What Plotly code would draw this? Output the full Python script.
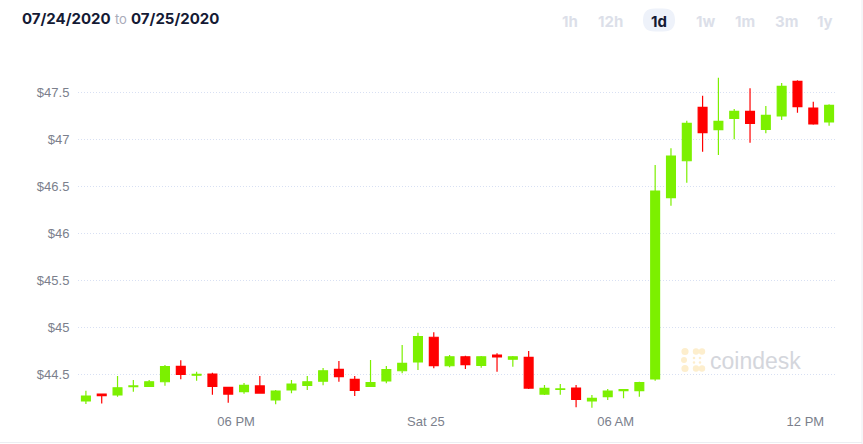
import pandas as pd
import plotly.graph_objects as go

# ---------------- data ----------------
start_time = "2020-07-24 13:15"
opens = [44.216, 44.29, 44.28, 44.368, 44.372, 44.421, 44.585, 44.49, 44.503, 44.362,
         44.315, 44.376, 44.227, 44.333, 44.383, 44.426, 44.553, 44.447, 44.372, 44.429,
         44.538, 44.631, 44.894, 44.591, 44.687, 44.596, 44.705, 44.66, 44.681, 44.29,
         44.34, 44.354, 44.216, 44.262, 44.326, 44.326, 44.45, 46.379, 46.772, 47.34,
         47.102, 47.223, 47.298, 47.106, 47.248, 47.617, 47.333, 47.184]
highs = [44.326, 44.292, 44.482, 44.44, 44.44, 44.599, 44.649, 44.528, 44.517, 44.365,
         44.407, 44.482, 44.333, 44.44, 44.482, 44.567, 44.641, 44.482, 44.652, 44.588,
         44.812, 44.943, 44.947, 44.705, 44.698, 44.695, 44.723, 44.695, 44.748, 44.386,
         44.397, 44.386, 44.28, 44.344, 44.344, 44.421, 46.727, 46.904, 47.198, 47.464,
         47.655, 47.322, 47.543, 47.354, 47.599, 47.628, 47.40, 47.372]
lows = [44.184, 44.19, 44.262, 44.315, 44.368, 44.379, 44.447, 44.432, 44.283, 44.198,
        44.294, 44.30, 44.181, 44.298, 44.333, 44.383, 44.421, 44.269, 44.368, 44.404,
        44.511, 44.546, 44.564, 44.574, 44.556, 44.57, 44.528, 44.581, 44.344, 44.28,
        44.283, 44.149, 44.145, 44.227, 44.245, 44.262, 44.432, 46.294, 46.538, 46.868,
        46.833, 47.00, 46.964, 47.064, 47.205, 47.283, 47.155, 47.145]
closes = [44.269, 44.272, 44.357, 44.376, 44.421, 44.581, 44.50, 44.50, 44.372, 44.29,
          44.383, 44.30, 44.322, 44.397, 44.421, 44.538, 44.474, 44.33, 44.411, 44.549,
          44.617, 44.90, 44.591, 44.687, 44.602, 44.687, 44.684, 44.687, 44.354, 44.351,
          44.344, 44.234, 44.245, 44.322, 44.336, 44.411, 46.45, 46.822, 47.17, 47.07,
          47.191, 47.298, 47.17, 47.255, 47.564, 47.347, 47.163, 47.362]
times = pd.date_range(start_time, periods=len(opens), freq="30min")

y_tickvals = [44.5, 45, 45.5, 46, 46.5, 47, 47.5]
y_ticktext = ["$44.5", "$45", "$45.5", "$46", "$46.5", "$47", "$47.5"]
x_tickvals = ["2020-07-24 18:00", "2020-07-25 00:00", "2020-07-25 06:00", "2020-07-25 12:00"]
x_ticktext = ["06 PM", "Sat 25", "06 AM", "12 PM"]
range_buttons = ["1h", "12h", "1d", "1w", "1m", "3m", "1y"]
active_button = "1d"

GREEN = "#7CF000"
RED = "#FF0000"

# ---------------- layout helpers (pixel -> paper) ----------------
W, H = 863, 444
L, R, T, B = 78, 26, 50, 32
PW, PH = W - L - R, H - T - B


def px(x):
    return (x - L) / PW


def py(y):
    return (H - B - y) / PH


fig = go.Figure()
fig.add_trace(go.Candlestick(
    x=times, open=opens, high=highs, low=lows, close=closes,
    increasing=dict(line=dict(color=GREEN, width=1.2), fillcolor=GREEN),
    decreasing=dict(line=dict(color=RED, width=1.2), fillcolor=RED),
    whiskerwidth=0, showlegend=False, hoverinfo="skip",
))

annotations = []
# header
annotations.append(dict(
    x=px(20), y=py(18), xref="paper", yref="paper", xanchor="left", yanchor="middle",
    text="<b>07/24/2020</b> <span style='color:#a9abb9;font-size:13px'>to</span> <b>07/25/2020</b>",
    showarrow=False, font=dict(family="Inter", size=15, color="#141a34"),
))
# range buttons
btn_x = [570, 610, 659, 705, 744.5, 786, 825]
for lab, bx in zip(range_buttons, btn_x):
    annotations.append(dict(
        x=px(bx), y=py(21), xref="paper", yref="paper", xanchor="center", yanchor="middle",
        text="<b>%s</b>" % lab, showarrow=False,
        font=dict(family="Inter", size=15,
                  color="#141a34" if lab == active_button else "#dcdfe9"),
    ))
# watermark
annotations.append(dict(
    x=px(755), y=py(361), xref="paper", yref="paper", xanchor="center", yanchor="middle",
    text="coindesk", showarrow=False,
    font=dict(family="Liberation Sans", size=23, color="#d4d6dc"),
))

shapes = []


def rounded_rect(x0, y0, x1, y1, r):
    p = lambda a, b: "%.5f,%.5f" % (px(a), py(b))
    path = "M%s L%s Q%s %s L%s Q%s %s L%s Q%s %s L%s Q%s %s Z" % (
        p(x0 + r, y0), p(x1 - r, y0), p(x1, y0), p(x1, y0 + r),
        p(x1, y1 - r), p(x1, y1), p(x1 - r, y1),
        p(x0 + r, y1), p(x0, y1), p(x0, y1 - r),
        p(x0, y0 + r), p(x0, y0), p(x0 + r, y0))
    return path


shapes.append(dict(type="path", xref="paper", yref="paper",
                   path=rounded_rect(643, 8.5, 675, 31.5, 11.5),
                   fillcolor="#eef2fa", line=dict(width=0), layer="below"))
# coindesk logo (pale dots)
for cx, cy, r in [(685, 351.5, 3.6), (696, 351.5, 3.2), (702, 351.5, 3.2),
                  (684, 360, 3.0), (685, 368.5, 3.6), (696, 368.5, 3.2), (702, 368.5, 3.2),
                  (694, 358, 1.3), (694, 362.5, 1.3), (700, 358, 1.3), (700, 362.5, 1.3)]:
    shapes.append(dict(type="circle", xref="paper", yref="paper",
                       x0=px(cx - r), x1=px(cx + r), y0=py(cy + r), y1=py(cy - r),
                       fillcolor="#fdeecd", line=dict(width=0), layer="below"))
# frame lines
shapes.append(dict(type="line", xref="paper", yref="paper",
                   x0=px(862), x1=px(862), y0=py(0), y1=py(444),
                   line=dict(color="#eceef2", width=1)))
shapes.append(dict(type="line", xref="paper", yref="paper",
                   x0=px(0), x1=px(862), y0=py(442.5), y1=py(442.5),
                   line=dict(color="#eceef2", width=1)))

fig.update_layout(
    width=W, height=H,
    margin=dict(l=L, r=R, t=T, b=B, pad=0),
    paper_bgcolor="white", plot_bgcolor="white",
    boxgap=0.2,
    annotations=annotations, shapes=shapes,
    font=dict(family="Liberation Sans", size=13, color="#7b7f8c"),
    xaxis=dict(
        type="date", range=["2020-07-24 13:00", "2020-07-25 13:00"],
        rangeslider=dict(visible=False), showgrid=False, zeroline=False, showline=False,
        tickvals=x_tickvals, ticktext=x_ticktext, ticks="",
        tickfont=dict(family="Liberation Sans", size=13, color="#7b7f8c"),
        fixedrange=True,
    ),
    yaxis=dict(
        range=[44.099, 47.95], showgrid=True, gridcolor="#d8e0f3", griddash="1px,2px",
        gridwidth=1, zeroline=False, showline=False,
        tickvals=y_tickvals, ticktext=y_ticktext, ticks="outside", ticklen=5,
        tickcolor="rgba(0,0,0,0)",
        tickfont=dict(family="Liberation Sans", size=13, color="#7b7f8c"),
        fixedrange=True,
    ),
    hovermode=False,
)

fig.write_html("out.html", config={"displayModeBar": False})
